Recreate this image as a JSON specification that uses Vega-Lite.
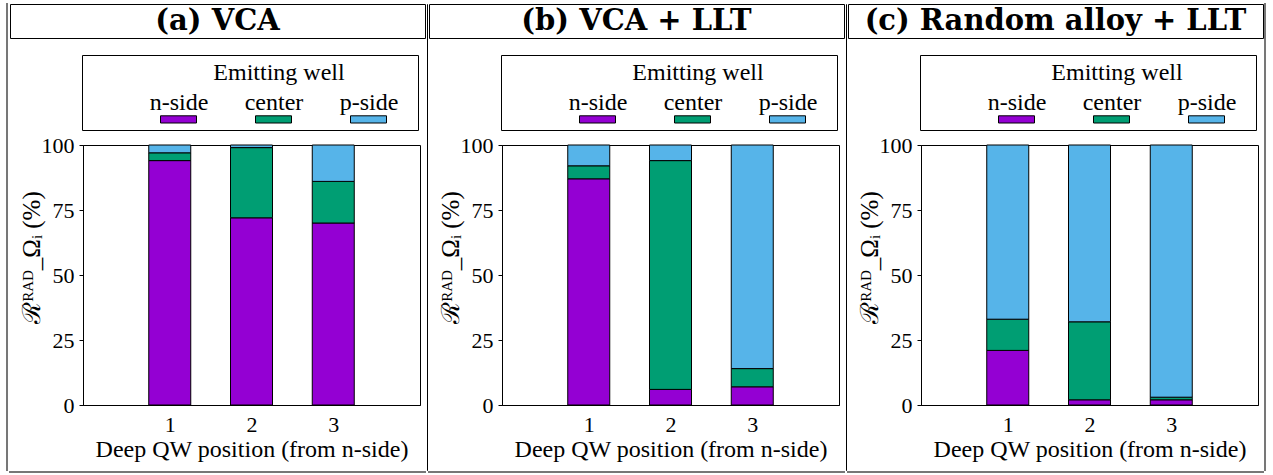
{
"$schema": "https://vega.github.io/schema/vega-lite/v6.json",
"padding": {"left": 6, "top": 3, "right": 0, "bottom": 0},
"background": "white",
"datasets": {
"bars": [
{"panel":"a","pos":1,"well":"n-side","k":1,"v":94},{"panel":"a","pos":1,"well":"center","k":2,"v":3},{"panel":"a","pos":1,"well":"p-side","k":3,"v":3},
{"panel":"a","pos":2,"well":"n-side","k":1,"v":72},{"panel":"a","pos":2,"well":"center","k":2,"v":27},{"panel":"a","pos":2,"well":"p-side","k":3,"v":1},
{"panel":"a","pos":3,"well":"n-side","k":1,"v":70},{"panel":"a","pos":3,"well":"center","k":2,"v":16},{"panel":"a","pos":3,"well":"p-side","k":3,"v":14},
{"panel":"b","pos":1,"well":"n-side","k":1,"v":87},{"panel":"b","pos":1,"well":"center","k":2,"v":5},{"panel":"b","pos":1,"well":"p-side","k":3,"v":8},
{"panel":"b","pos":2,"well":"n-side","k":1,"v":6},{"panel":"b","pos":2,"well":"center","k":2,"v":88},{"panel":"b","pos":2,"well":"p-side","k":3,"v":6},
{"panel":"b","pos":3,"well":"n-side","k":1,"v":7},{"panel":"b","pos":3,"well":"center","k":2,"v":7},{"panel":"b","pos":3,"well":"p-side","k":3,"v":86},
{"panel":"c","pos":1,"well":"n-side","k":1,"v":21},{"panel":"c","pos":1,"well":"center","k":2,"v":12},{"panel":"c","pos":1,"well":"p-side","k":3,"v":67},
{"panel":"c","pos":2,"well":"n-side","k":1,"v":2},{"panel":"c","pos":2,"well":"center","k":2,"v":30},{"panel":"c","pos":2,"well":"p-side","k":3,"v":68},
{"panel":"c","pos":3,"well":"n-side","k":1,"v":2},{"panel":"c","pos":3,"well":"center","k":2,"v":1},{"panel":"c","pos":3,"well":"p-side","k":3,"v":97}
],
"titles": [{"panel":"a","t":"(a) VCA"},{"panel":"b","t":"(b) VCA + LLT"},{"panel":"c","t":"(c) Random alloy + LLT"}],
"wells": [{"well":"n-side"},{"well":"center"},{"well":"p-side"}]
},
"config": {
"font": "Liberation Serif",
"view": {"stroke": null},
"axis": {"labelFont": "Liberation Serif", "labelFontSize": 22, "labelColor": "black", "titleFont": "Liberation Serif", "titleFontSize": 24, "titleFontWeight": "normal", "titleColor": "black", "domainColor": "black", "tickColor": "black", "grid": false},
"legend": {"orient": "none", "legendX": 78, "legendY": 6, "direction": "horizontal", "columns": 3, "titleFont": "Liberation Serif", "titleFontSize": 24, "titleFontWeight": "normal", "titleColor": "black", "titleAnchor": "middle", "titlePadding": 6, "labelFont": "Liberation Serif", "labelFontSize": 24, "labelColor": "black", "labelAlign": "center", "labelBaseline": "alphabetic", "labelOffset": -18, "symbolType": "M-1,0.35H1V0.75H-1Z", "symbolSize": 1296, "symbolStrokeColor": "black", "symbolStrokeWidth": 1, "columnPadding": 35, "padding": 0}
},
"resolve": {"scale": {"color": "independent", "x": "independent", "y": "independent"}, "legend": {"color": "independent"}},
"spacing": 0,
"hconcat": [
{"width": 0.01, "height": 466, "data": {"values": []}, "mark": {"type": "point", "opacity": 0}, "encoding": {}, "view": {"stroke": "#777", "strokeWidth": 2}},
{
"spacing": 15,
"resolve": {"scale": {"color": "independent"}, "legend": {"color": "independent"}},
"vconcat": [
{"width": 415, "height": 34, "data": {"name": "titles"}, "transform": [{"filter": "datum.panel == 'a'"}], "mark": {"type": "text", "font": "DejaVu Serif", "fontWeight": "bold", "fontSize": 29, "color": "black"}, "encoding": {"text": {"field": "t"}}, "view": {"stroke": "black", "strokeWidth": 1}},
{"spacing": 2, "resolve": {"scale": {"color": "independent"}, "legend": {"color": "independent"}}, "vconcat": [
{"spacing": 0, "resolve": {"scale": {"color": "independent"}, "legend": {"color": "independent"}}, "hconcat": [
{"width": 71, "height": 1, "data": {"values": []}, "mark": {"type": "point", "opacity": 0}, "encoding": {}},
{"width": 336, "height": 75, "data": {"name": "wells"}, "mark": {"type": "square", "opacity": 0}, "encoding": {"color": {"field": "well", "type": "nominal", "scale": {"domain": ["n-side","center","p-side"], "range": ["#9400d3","#009e73","#56b4e9"]}, "legend": {"title": "Emitting well"}}}, "view": {"stroke": "black", "strokeWidth": 1}}
]},
{"spacing": 9, "resolve": {"scale": {"color": "independent"}, "legend": {"color": "independent"}}, "vconcat": [
{"spacing": 0, "resolve": {"scale": {"color": "independent"}, "legend": {"color": "independent"}}, "hconcat": [
{"width": 8, "height": 1, "data": {"values": []}, "mark": {"type": "point", "opacity": 0}, "encoding": {}},
{"width": 337, "height": 260, "data": {"name": "bars"}, "transform": [{"filter": "datum.panel == 'a'"}], "mark": {"type": "bar", "width": 42, "stroke": "black", "strokeWidth": 1}, "encoding": {
"x": {"field": "pos", "type": "quantitative", "scale": {"domain": [0,4], "nice": false}, "axis": {"values": [1,2,3], "ticks": false, "labelPadding": 9, "title": "Deep QW position (from n-side)", "titlePadding": 2}},
"y": {"field": "v", "type": "quantitative", "stack": "zero", "scale": {"domain": [0,100], "nice": false}, "axis": {"values": [0,25,50,75,100], "tickSize": 4, "labelPadding": 5, "title": "ℛᴿᴬᴰ_Ωᵢ (%)", "titleFontSize": 25, "titlePadding": -3, "titleY": 112}},
"color": {"field": "well", "type": "nominal", "scale": {"domain": ["n-side","center","p-side"], "range": ["#9400d3","#009e73","#56b4e9"]}, "legend": null},
"order": {"field": "k", "type": "quantitative"}
}, "view": {"stroke": "black", "strokeWidth": 1}}
]},
{"width": 415, "height": 0.01, "data": {"values": []}, "mark": {"type": "point", "opacity": 0}, "encoding": {}, "view": {"stroke": "#777", "strokeWidth": 2}}
]}
]}
]
},
{"width": 0.01, "height": 466, "data": {"values": []}, "mark": {"type": "point", "opacity": 0}, "encoding": {}, "view": {"stroke": "black", "strokeWidth": 1}},
{
"spacing": 15,
"resolve": {"scale": {"color": "independent"}, "legend": {"color": "independent"}},
"vconcat": [
{"width": 415, "height": 34, "data": {"name": "titles"}, "transform": [{"filter": "datum.panel == 'b'"}], "mark": {"type": "text", "font": "DejaVu Serif", "fontWeight": "bold", "fontSize": 29, "color": "black"}, "encoding": {"text": {"field": "t"}}, "view": {"stroke": "black", "strokeWidth": 1}},
{"spacing": 2, "resolve": {"scale": {"color": "independent"}, "legend": {"color": "independent"}}, "vconcat": [
{"spacing": 0, "resolve": {"scale": {"color": "independent"}, "legend": {"color": "independent"}}, "hconcat": [
{"width": 71, "height": 1, "data": {"values": []}, "mark": {"type": "point", "opacity": 0}, "encoding": {}},
{"width": 336, "height": 75, "data": {"name": "wells"}, "mark": {"type": "square", "opacity": 0}, "encoding": {"color": {"field": "well", "type": "nominal", "scale": {"domain": ["n-side","center","p-side"], "range": ["#9400d3","#009e73","#56b4e9"]}, "legend": {"title": "Emitting well"}}}, "view": {"stroke": "black", "strokeWidth": 1}}
]},
{"spacing": 9, "resolve": {"scale": {"color": "independent"}, "legend": {"color": "independent"}}, "vconcat": [
{"spacing": 0, "resolve": {"scale": {"color": "independent"}, "legend": {"color": "independent"}}, "hconcat": [
{"width": 8, "height": 1, "data": {"values": []}, "mark": {"type": "point", "opacity": 0}, "encoding": {}},
{"width": 337, "height": 260, "data": {"name": "bars"}, "transform": [{"filter": "datum.panel == 'b'"}], "mark": {"type": "bar", "width": 42, "stroke": "black", "strokeWidth": 1}, "encoding": {
"x": {"field": "pos", "type": "quantitative", "scale": {"domain": [0,4], "nice": false}, "axis": {"values": [1,2,3], "ticks": false, "labelPadding": 9, "title": "Deep QW position (from n-side)", "titlePadding": 2}},
"y": {"field": "v", "type": "quantitative", "stack": "zero", "scale": {"domain": [0,100], "nice": false}, "axis": {"values": [0,25,50,75,100], "tickSize": 4, "labelPadding": 5, "title": "ℛᴿᴬᴰ_Ωᵢ (%)", "titleFontSize": 25, "titlePadding": -3, "titleY": 112}},
"color": {"field": "well", "type": "nominal", "scale": {"domain": ["n-side","center","p-side"], "range": ["#9400d3","#009e73","#56b4e9"]}, "legend": null},
"order": {"field": "k", "type": "quantitative"}
}, "view": {"stroke": "black", "strokeWidth": 1}}
]},
{"width": 415, "height": 0.01, "data": {"values": []}, "mark": {"type": "point", "opacity": 0}, "encoding": {}, "view": {"stroke": "#777", "strokeWidth": 2}}
]}
]}
]
},
{"width": 0.01, "height": 466, "data": {"values": []}, "mark": {"type": "point", "opacity": 0}, "encoding": {}, "view": {"stroke": "black", "strokeWidth": 1}},
{
"spacing": 15,
"resolve": {"scale": {"color": "independent"}, "legend": {"color": "independent"}},
"vconcat": [
{"width": 415, "height": 34, "data": {"name": "titles"}, "transform": [{"filter": "datum.panel == 'c'"}], "mark": {"type": "text", "font": "DejaVu Serif", "fontWeight": "bold", "fontSize": 29, "color": "black"}, "encoding": {"text": {"field": "t"}}, "view": {"stroke": "black", "strokeWidth": 1}},
{"spacing": 2, "resolve": {"scale": {"color": "independent"}, "legend": {"color": "independent"}}, "vconcat": [
{"spacing": 0, "resolve": {"scale": {"color": "independent"}, "legend": {"color": "independent"}}, "hconcat": [
{"width": 71, "height": 1, "data": {"values": []}, "mark": {"type": "point", "opacity": 0}, "encoding": {}},
{"width": 336, "height": 75, "data": {"name": "wells"}, "mark": {"type": "square", "opacity": 0}, "encoding": {"color": {"field": "well", "type": "nominal", "scale": {"domain": ["n-side","center","p-side"], "range": ["#9400d3","#009e73","#56b4e9"]}, "legend": {"title": "Emitting well"}}}, "view": {"stroke": "black", "strokeWidth": 1}}
]},
{"spacing": 9, "resolve": {"scale": {"color": "independent"}, "legend": {"color": "independent"}}, "vconcat": [
{"spacing": 0, "resolve": {"scale": {"color": "independent"}, "legend": {"color": "independent"}}, "hconcat": [
{"width": 8, "height": 1, "data": {"values": []}, "mark": {"type": "point", "opacity": 0}, "encoding": {}},
{"width": 337, "height": 260, "data": {"name": "bars"}, "transform": [{"filter": "datum.panel == 'c'"}], "mark": {"type": "bar", "width": 42, "stroke": "black", "strokeWidth": 1}, "encoding": {
"x": {"field": "pos", "type": "quantitative", "scale": {"domain": [0,4], "nice": false}, "axis": {"values": [1,2,3], "ticks": false, "labelPadding": 9, "title": "Deep QW position (from n-side)", "titlePadding": 2}},
"y": {"field": "v", "type": "quantitative", "stack": "zero", "scale": {"domain": [0,100], "nice": false}, "axis": {"values": [0,25,50,75,100], "tickSize": 4, "labelPadding": 5, "title": "ℛᴿᴬᴰ_Ωᵢ (%)", "titleFontSize": 25, "titlePadding": -3, "titleY": 112}},
"color": {"field": "well", "type": "nominal", "scale": {"domain": ["n-side","center","p-side"], "range": ["#9400d3","#009e73","#56b4e9"]}, "legend": null},
"order": {"field": "k", "type": "quantitative"}
}, "view": {"stroke": "black", "strokeWidth": 1}}
]},
{"width": 415, "height": 0.01, "data": {"values": []}, "mark": {"type": "point", "opacity": 0}, "encoding": {}, "view": {"stroke": "#777", "strokeWidth": 2}}
]}
]}
]
},
{"width": 0.01, "height": 466, "data": {"values": []}, "mark": {"type": "point", "opacity": 0}, "encoding": {}, "view": {"stroke": "#777", "strokeWidth": 2}}
]
}
